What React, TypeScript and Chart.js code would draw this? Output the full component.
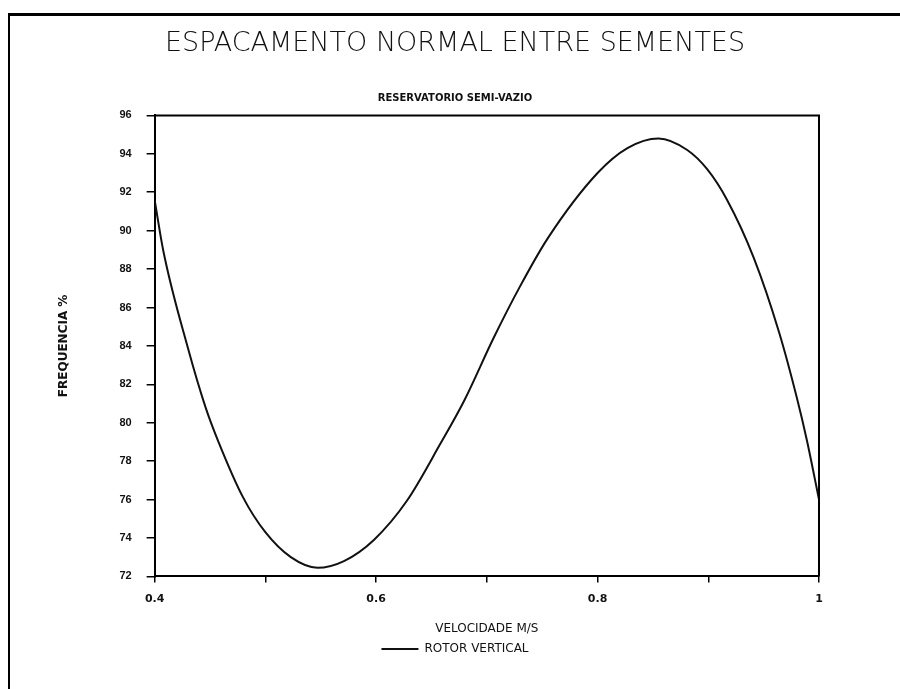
import React, { useEffect, useRef } from "react";
import { Chart, registerables } from "chart.js";

Chart.register(...registerables);

const titleText = "ESPACAMENTO NORMAL ENTRE SEMENTES";
const subtitleText = "RESERVATORIO SEMI-VAZIO";
const xAxisTitle = "VELOCIDADE M/S";
const yAxisTitle = "FREQUENCIA %";
const seriesName = "ROTOR VERTICAL";

const xValues = [0.40, 0.408, 0.43, 0.446, 0.457, 0.48, 0.50, 0.523, 0.547, 0.571, 0.598, 0.628, 0.658, 0.68, 0.706, 0.73, 0.755, 0.80, 0.827, 0.855, 0.881, 0.899, 0.917, 0.941, 0.964, 0.98, 0.989, 1.0];
const yValues = [91.6, 88.9, 83.9, 80.8, 79.1, 76.1, 74.3, 73.0, 72.45, 72.8, 73.9, 75.95, 78.9, 81.2, 84.4, 87.1, 89.6, 93.0, 94.3, 94.8, 94.2, 93.2, 91.6, 88.6, 84.7, 81.3, 79.1, 76.0];

const xTickLabels = ["0.4", "", "0.6", "", "0.8", "", "1"];
const yTickLabels = ["72", "74", "76", "78", "80", "82", "84", "86", "88", "90", "92", "94", "96"];

const frameBox = {
  id: "frameBox",
  afterDatasetsDraw(chart: any) {
    const { ctx, chartArea } = chart;
    ctx.save();
    ctx.strokeStyle = "#000";
    ctx.lineWidth = 2;
    ctx.beginPath();
    ctx.moveTo(chartArea.left, chartArea.top);
    ctx.lineTo(chartArea.right, chartArea.top);
    ctx.lineTo(chartArea.right, chartArea.bottom);
    ctx.stroke();
    ctx.restore();
  },
};

export default function App() {
  const ref = useRef<HTMLCanvasElement | null>(null);

  useEffect(() => {
    if (!ref.current) return;
    const data = xValues.map((x, i) => ({ x, y: yValues[i] }));
    const chart = new Chart(ref.current, {
      type: "line",
      data: {
        datasets: [
          {
            label: seriesName,
            data,
            borderColor: "#111",
            backgroundColor: "#111",
            borderWidth: 2,
            pointRadius: 0,
            cubicInterpolationMode: "monotone",
          },
        ],
      },
      options: {
        animation: false,
        responsive: false,
        layout: { padding: { left: 53, right: 43, top: 0, bottom: 24 } },
        plugins: {
          title: {
            display: true,
            text: titleText,
            color: "#111",
            font: { family: '"DejaVu Sans", sans-serif', size: 27, weight: 200 as any },
            padding: { top: 28, bottom: 10 },
          },
          subtitle: {
            display: true,
            text: subtitleText,
            color: "#111",
            font: { family: '"DejaVu Sans", sans-serif', size: 10, weight: "bold" },
            padding: { top: 22, bottom: 11 },
          },
          legend: {
            display: true,
            position: "bottom",
            labels: {
              color: "#111",
              font: { family: '"DejaVu Sans", sans-serif', size: 12 },
              usePointStyle: true,
              pointStyle: "line",
              pointStyleWidth: 37,
              padding: 7,
            },
          },
          tooltip: { enabled: false },
        },
        scales: {
          x: {
            type: "linear",
            min: 0.4,
            max: 1,
            border: { display: true, color: "#000", width: 2 },
            grid: { drawOnChartArea: false, drawTicks: true, tickLength: 6, color: "#000", lineWidth: 1.5 },
            ticks: {
              stepSize: 0.1,
              autoSkip: false,
              maxRotation: 0,
              padding: 10,
              color: "#111",
              font: { family: '"DejaVu Sans", sans-serif', size: 11, weight: "bold" },
              callback: (_v: any, i: number) => xTickLabels[i] ?? "",
            },
            title: {
              display: true,
              text: xAxisTitle,
              color: "#111",
              font: { family: '"DejaVu Sans", sans-serif', size: 12 },
              padding: { top: 6, bottom: 0 },
            },
          },
          y: {
            type: "linear",
            min: 72,
            max: 96,
            border: { display: true, color: "#000", width: 2 },
            grid: { drawOnChartArea: false, drawTicks: true, tickLength: 8, color: "#000", lineWidth: 1.5 },
            ticks: {
              stepSize: 2,
              autoSkip: false,
              padding: 15,
              color: "#111",
              font: { family: '"Liberation Sans Narrow", "Liberation Sans", sans-serif', size: 11, weight: "bold" },
              callback: (_v: any, i: number) => yTickLabels[i] ?? "",
            },
            title: {
              display: true,
              text: yAxisTitle,
              color: "#111",
              font: { family: '"DejaVu Sans", sans-serif', size: 12, weight: "bold" },
              padding: { top: 4, bottom: 33 },
            },
          },
          yRight: {
            type: "linear",
            position: "right",
            min: 72,
            max: 96,
            display: true,
            border: { display: false },
            grid: { display: false, drawTicks: false },
            ticks: { display: false },
            afterFit: (scale: any) => {
              scale.width = 38;
            },
          },
        },
      },
      plugins: [frameBox],
    });
    return () => chart.destroy();
  }, []);

  return (
    <div style={{ position: "absolute", left: 0, top: 0, width: 900, height: 689, background: "#fff", overflow: "hidden" }}>
      <div
        style={{
          position: "absolute",
          left: 8,
          top: 13,
          width: 892,
          height: 676,
          borderTop: "3px solid #000",
          borderLeft: "2px solid #000",
          boxSizing: "border-box",
        }}
      />
      <canvas ref={ref} width={900} height={689} style={{ position: "absolute", left: 0, top: 0 }} />
    </div>
  );
}
